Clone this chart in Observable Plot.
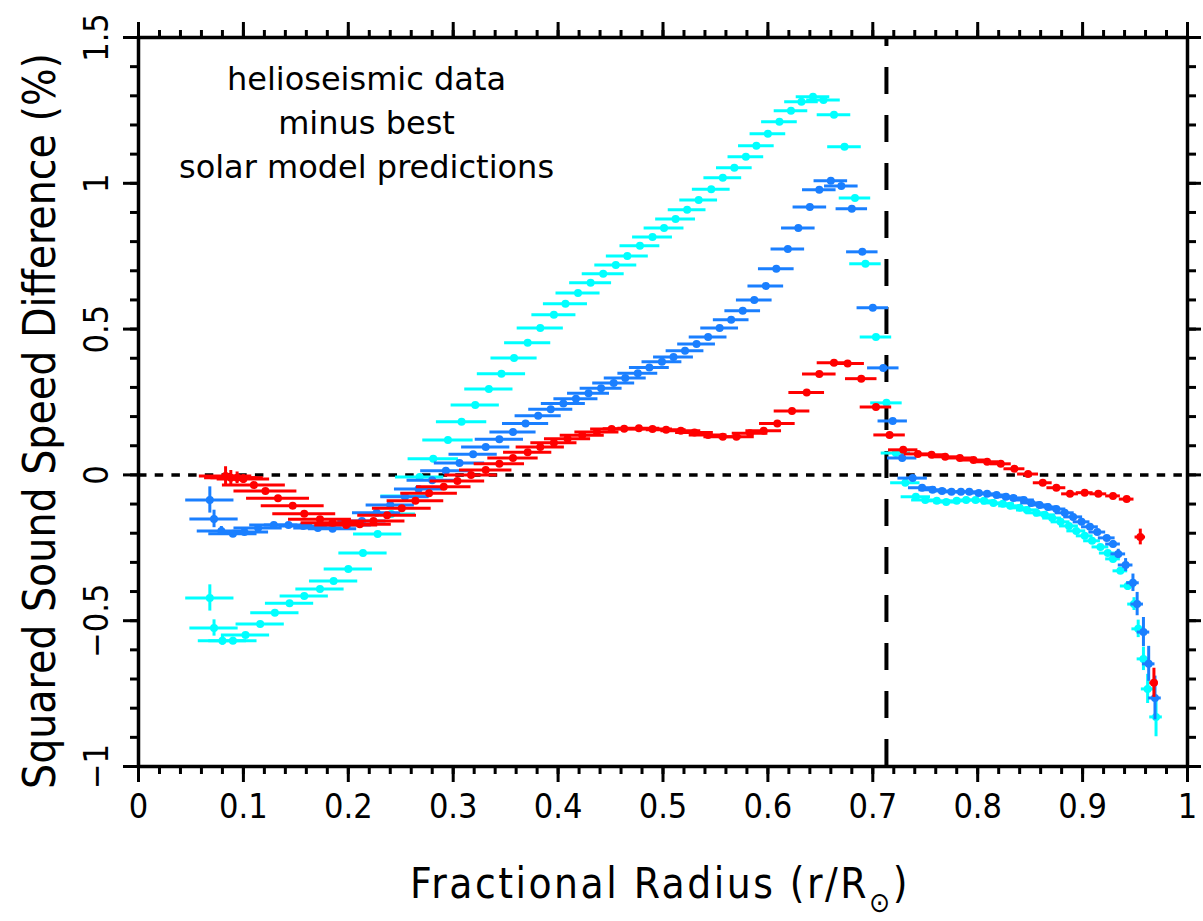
<!DOCTYPE html>
<html><head><meta charset="utf-8">
<script src="https://cdn.jsdelivr.net/npm/d3@7"></script>
<script src="https://cdn.jsdelivr.net/npm/@observablehq/plot@0.6"></script>
<style>
html,body{margin:0;padding:0;background:#fff;}
#chart svg{display:block;}
</style></head>
<body><div id="chart"></div>
<script>
// ---------- data ----------
const cyanR = [0.068,0.072,0.080,0.090,0.102,0.116,0.130,0.144,0.158,0.173,0.186,0.200,0.214,0.228,0.241,0.254,0.268,
 0.281,0.295,0.308,0.321,0.334,0.346,0.358,0.371,0.383,0.396,0.407,0.419,0.431,0.443,0.455,0.466,0.478,0.490,0.501,0.512,
 0.523,0.534,0.546,0.557,0.568,0.579,0.589,0.600,0.611,0.622,0.632,0.643,0.653,0.663,0.673,0.683,0.693,0.703,0.713,0.722,
 0.731,0.741,0.750,0.761,0.770,0.780,0.789,0.798,0.806,0.815,0.824,0.831,0.840,0.847,0.856,0.864,0.871,0.879,0.887,0.894,
 0.902,0.909,0.917,0.924,0.929,0.936,0.943,0.949,0.953,0.958,0.962,0.970];
const cyanD = [-0.422,-0.525,-0.569,-0.569,-0.549,-0.511,-0.473,-0.440,-0.415,-0.391,-0.364,-0.323,-0.268,-0.203,-0.134,-0.072,-0.007,
 0.055,0.120,0.182,0.240,0.295,0.347,0.401,0.453,0.504,0.549,0.587,0.624,0.659,0.690,0.720,0.751,0.786,0.816,0.847,0.878,
 0.909,0.943,0.980,1.019,1.053,1.091,1.129,1.170,1.211,1.249,1.280,1.297,1.286,1.235,1.125,0.950,0.724,0.473,0.247,0.075,
 -0.027,-0.075,-0.086,-0.089,-0.093,-0.089,-0.086,-0.086,-0.089,-0.096,-0.099,-0.106,-0.113,-0.120,-0.130,-0.137,-0.148,-0.161,-0.175,-0.192,
 -0.209,-0.226,-0.247,-0.268,-0.288,-0.329,-0.381,-0.443,-0.528,-0.631,-0.734,-0.830];
const cyanErrR = [0.023,0.023,0.023,0.023,0.023,0.023,0.023,0.023,0.023,0.023,0.023,0.023,0.023,0.023,0.023,0.023,0.023,
 0.024,0.024,0.024,0.023,0.023,0.023,0.022,0.022,0.022,0.021,0.021,0.021,0.020,0.020,0.020,0.020,0.019,0.019,0.019,0.019,
 0.018,0.018,0.018,0.018,0.017,0.017,0.017,0.017,0.017,0.016,0.016,0.016,0.016,0.016,0.016,0.015,0.015,0.015,0.015,0.014,
 0.014,0.014,0.013,0.013,0.012,0.012,0.012,0.012,0.011,0.011,0.011,0.011,0.010,0.010,0.010,0.010,0.009,0.009,0.009,0.009,
 0.008,0.008,0.008,0.008,0.007,0.007,0.007,0.006,0.006,0.006,0.006,0.006];
const cyanErrD = [0.045,0.028,0.015,0.012,0,0,0,0,0,0,0,0,0,0,0,0,0,
 0,0,0,0,0,0,0,0,0,0,0,0,0,0,0,0,0,0,0,0,
 0,0,0,0,0,0,0,0,0,0,0,0,0,0,0,0,0,0,0,0,
 0,0,0,0,0,0,0,0,0,0,0,0,0,0,0,0,0,0,0,0,
 0,0,0,0,0,0.010,0.015,0.022,0.030,0.040,0.050,0.068];

const blueR = [0.068,0.072,0.079,0.090,0.101,0.114,0.129,0.143,0.157,0.171,0.185,0.199,0.213,0.227,0.240,0.254,0.267,
 0.280,0.293,0.306,0.319,0.331,0.344,0.357,0.369,0.381,0.393,0.405,0.417,0.429,0.441,0.453,0.464,0.476,0.487,0.499,0.510,
 0.521,0.532,0.543,0.554,0.565,0.576,0.587,0.598,0.608,0.619,0.629,0.640,0.649,0.660,0.670,0.680,0.690,0.700,0.710,0.719,
 0.728,0.738,0.747,0.757,0.766,0.775,0.784,0.792,0.801,0.809,0.818,0.827,0.834,0.844,0.851,0.859,0.867,0.875,0.883,0.891,
 0.899,0.907,0.914,0.923,0.929,0.934,0.941,0.948,0.952,0.958,0.963,0.969];
const blueD = [-0.086,-0.151,-0.192,-0.202,-0.196,-0.182,-0.172,-0.172,-0.175,-0.182,-0.185,-0.172,-0.158,-0.130,-0.103,-0.075,-0.048,
 -0.018,0.014,0.041,0.071,0.096,0.122,0.147,0.176,0.203,0.225,0.245,0.261,0.280,0.297,0.315,0.332,0.349,0.368,0.388,0.404,
 0.426,0.449,0.473,0.504,0.532,0.563,0.600,0.648,0.707,0.775,0.847,0.919,0.978,1.009,0.991,0.913,0.765,0.573,0.367,0.185,
 0.058,-0.011,-0.044,-0.051,-0.055,-0.058,-0.058,-0.058,-0.062,-0.065,-0.069,-0.075,-0.079,-0.086,-0.096,-0.103,-0.110,-0.117,-0.130,-0.144,
 -0.161,-0.178,-0.196,-0.216,-0.237,-0.271,-0.309,-0.370,-0.443,-0.539,-0.648,-0.765];
const blueErrR = [0.023,0.023,0.023,0.023,0.023,0.023,0.023,0.023,0.023,0.023,0.023,0.023,0.023,0.023,0.023,0.023,0.023,
 0.024,0.024,0.024,0.023,0.023,0.023,0.022,0.022,0.022,0.021,0.021,0.021,0.020,0.020,0.020,0.020,0.019,0.019,0.019,0.019,
 0.018,0.018,0.018,0.018,0.017,0.017,0.017,0.017,0.017,0.016,0.016,0.016,0.016,0.016,0.016,0.015,0.015,0.015,0.015,0.014,
 0.014,0.014,0.013,0.013,0.012,0.012,0.012,0.012,0.011,0.011,0.011,0.011,0.010,0.010,0.010,0.010,0.009,0.009,0.009,0.009,
 0.008,0.008,0.008,0.008,0.007,0.007,0.007,0.006,0.006,0.006,0.006,0.006];
const blueErrD = [0.045,0.030,0.015,0,0,0,0,0,0,0,0,0,0,0,0,0,0,
 0,0,0,0,0,0,0,0,0,0,0,0,0,0,0,0,0,0,0,0,
 0,0,0,0,0,0,0,0,0,0,0,0,0,0,0,0,0,0,0,0,
 0,0,0,0,0,0,0,0,0,0,0,0,0,0,0,0,0,0,0,0,
 0,0,0,0.008,0.012,0.016,0.022,0.030,0.040,0.050,0.060,0.075];

const redR = [0.083,0.088,0.094,0.100,
 0.110,0.121,0.133,0.147,0.158,0.173,0.185,0.198,0.211,0.224,
 0.237,0.251,0.264,0.277,0.291,0.304,0.317,0.331,0.344,0.357,
 0.371,0.383,0.396,0.409,0.423,0.437,0.451,0.463,0.477,0.490,
 0.503,0.517,0.530,0.543,0.557,0.570,0.583,0.596,0.609,0.623,
 0.637,0.649,0.663,0.676,0.689,0.703,0.716,0.729,0.743,0.756,
 0.769,0.783,0.796,0.809,0.822,0.835,0.848,0.862,0.875,0.888,
 0.902,0.915,0.929,0.942,0.955,0.968];
const redD = [-0.004,-0.010,-0.010,-0.014,
 -0.035,-0.055,-0.080,-0.106,-0.133,-0.152,-0.164,-0.172,-0.169,-0.158,
 -0.138,-0.114,-0.089,-0.063,-0.041,-0.021,0.000,0.017,0.038,0.058,
 0.078,0.096,0.110,0.124,0.136,0.147,0.157,0.158,0.160,0.157,
 0.155,0.151,0.145,0.137,0.131,0.131,0.143,0.151,0.176,0.219,
 0.283,0.346,0.385,0.382,0.330,0.233,0.137,0.086,0.072,0.069,
 0.062,0.058,0.051,0.045,0.038,0.021,0.003,-0.027,-0.044,-0.065,
 -0.061,-0.065,-0.072,-0.083,-0.213,-0.713];
const redErrR = [0.025,0.025,0.025,0.025,
 0.030,0.030,0.030,0.030,0.030,0.030,0.030,0.030,0.030,0.030,
 0.028,0.028,0.027,0.027,0.026,0.026,0.025,0.025,0.024,0.024,
 0.023,0.023,0.022,0.022,0.021,0.021,0.020,0.020,0.020,0.019,
 0.019,0.019,0.018,0.018,0.018,0.017,0.017,0.017,0.017,0.017,
 0.017,0.016,0.016,0.016,0.015,0.015,0.015,0.014,0.013,0.012,
 0.012,0.012,0.011,0.011,0.010,0.010,0.010,0.009,0.009,0.008,
 0.008,0.008,0.007,0.007,0.005,0.004];
const redErrD = [0.032,0.025,0.020,0.015,
 0,0,0,0,0,0,0,0,0,0, 0,0,0,0,0,0,0,0,0,0, 0,0,0,0,0,0,0,0,0,0,
 0,0,0,0,0,0,0,0,0,0, 0,0,0,0,0,0,0,0,0,0, 0,0,0,0,0,0,0,0,0,0,
 0,0,0,0,0.027,0.050];

const seriesNames = ["cyan", "blue", "red"];
const seriesColors = ["#00ffff", "#1a7fff", "#ff0000"];

const xMajor = [0,0.1,0.2,0.3,0.4,0.5,0.6,0.7,0.8,0.9,1];
const xTickLabels = ["0","0.1","0.2","0.3","0.4","0.5","0.6","0.7","0.8","0.9","1"];
const xMinor = d3.range(0, 51).map(i => i / 50);
const yMajor = [-1,-0.5,0,0.5,1,1.5];
const yTickLabels = ["\u22121","\u22120.5","0","0.5","1","1.5"];
const yMinor = d3.range(-10, 16).map(i => i / 10);
const yDomain = [-1, 1.5];
const xDomain = [0, 1];
const bczR = [0.713];
const annotation = "helioseismic data\nminus best\nsolar model predictions";
const yTitle = "Squared Sound Speed Difference (%)";

// ---------- build ----------
const seriesData = [
  [cyanR, cyanD, cyanErrR, cyanErrD],
  [blueR, blueD, blueErrR, blueErrD],
  [redR, redD, redErrR, redErrD]
].map(([R, D, ER, ED]) => R.map((r, i) => ({r, d: D[i], er: ER[i], ed: ED[i]})));

const seriesMarks = [];
seriesData.forEach((data, k) => {
  const c = seriesColors[k];
  seriesMarks.push(Plot.ruleY(data, {y: "d", x1: d => d.r - d.er, x2: d => d.r + d.er, stroke: c, strokeWidth: 3}));
  seriesMarks.push(Plot.ruleX(data.filter(d => d.ed > 0), {x: "r", y1: d => d.d - d.ed, y2: d => d.d + d.ed, stroke: c, strokeWidth: 3}));
  seriesMarks.push(Plot.dot(data, {x: "r", y: "d", r: 4, fill: c}));
});

const tickFont = "'Liberation Sans Narrow', 'DejaVu Sans Condensed', sans-serif";
const blank = () => "";

const plot = Plot.plot({
  width: 1203, height: 921,
  marginLeft: 138, marginRight: 16, marginTop: 37, marginBottom: 155,
  x: {domain: xDomain},
  y: {domain: yDomain},
  style: {fontFamily: tickFont, background: "white", color: "black", overflow: "visible"},
  marks: [
    Plot.ruleY([0], {strokeDasharray: "8.5,8.2", strokeWidth: 3.5}),
    Plot.ruleX(bczR, {x: d => d, y1: yDomain[0], y2: yDomain[1], strokeDasharray: "27,21", strokeWidth: 4}),
    ...seriesMarks,
    Plot.frame({strokeWidth: 3.5}),
    Plot.axisX(xMinor, {anchor: "bottom", tickSize: 8, strokeWidth: 3, tickFormat: blank, label: null}),
    Plot.axisX(xMajor, {anchor: "bottom", tickSize: 16, strokeWidth: 3, tickPadding: 11, fontSize: 34,
      tickFormat: d => xTickLabels[xMajor.indexOf(d)], label: null}),
    Plot.axisX(xMinor, {anchor: "top", tickSize: 8, strokeWidth: 3, tickFormat: blank, label: null}),
    Plot.axisX(xMajor, {anchor: "top", tickSize: 16, strokeWidth: 3, tickFormat: blank, label: null}),
    Plot.axisY(yMinor, {anchor: "left", tickSize: 8, strokeWidth: 3, tickFormat: blank, label: null}),
    Plot.axisY(yMajor, {anchor: "left", tickSize: 15, strokeWidth: 3, tickFormat: blank, label: null}),
    Plot.axisY(yMinor, {anchor: "right", tickSize: 8, strokeWidth: 3, tickFormat: blank, label: null}),
    Plot.axisY(yMajor, {anchor: "right", tickSize: 13, strokeWidth: 3, tickFormat: blank, label: null}),
    Plot.text(yMajor, {y: d => d, text: d => yTickLabels[yMajor.indexOf(d)], frameAnchor: "left",
      textAnchor: "middle", lineAnchor: "middle", dx: -41, rotate: -90, fontSize: 34}),
    Plot.text([yTitle], {text: d => d, frameAnchor: "left", textAnchor: "middle", lineAnchor: "middle",
      dx: -98, dy: 19, rotate: -90, fontSize: 44,
      fontFamily: "'DejaVu Sans Condensed', sans-serif"}),
    Plot.text([annotation], {text: d => d, frameAnchor: "top-left", dx: 228, dy: 21, textAnchor: "middle",
      lineAnchor: "top", lineHeight: 1.375, fontSize: 32, fontFamily: "'DejaVu Sans', sans-serif"})
  ]
});

// x-axis title with subscript solar symbol
const svg = d3.select(plot);
const t = svg.append("text")
  .attr("x", 660).attr("y", 898)
  .attr("text-anchor", "middle")
  .attr("font-family", "'DejaVu Sans Condensed', sans-serif")
  .attr("letter-spacing", 2.5)
  .attr("font-size", 42).attr("fill", "black");
t.append("tspan").text("Fractional Radius (r/R");
t.append("tspan").attr("font-size", 28).attr("dy", 14).text("\u2299");
t.append("tspan").attr("font-size", 42).attr("dy", -14).text(")");

document.getElementById("chart").appendChild(plot);
</script>
</body></html>
